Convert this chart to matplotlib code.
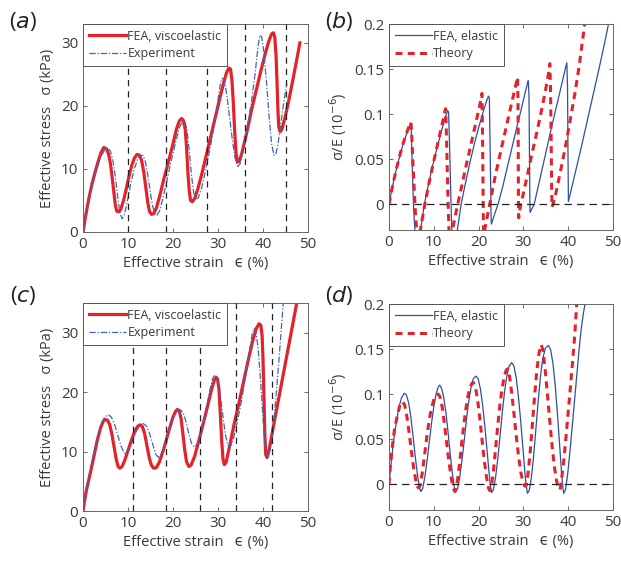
import numpy as np
import matplotlib.pyplot as plt

plt.rcParams['font.family'] = ['Open Sans', 'DejaVu Sans']
plt.rcParams['mathtext.fontset'] = 'dejavusans'
plt.rcParams['text.color'] = '#3a3a3a'
plt.rcParams['axes.labelcolor'] = '#3a3a3a'
plt.rcParams['xtick.color'] = '#555555'
plt.rcParams['ytick.color'] = '#555555'
plt.rcParams['xtick.labelcolor'] = '#3a3a3a'
plt.rcParams['ytick.labelcolor'] = '#3a3a3a'

# ---------------- (a) stress, viscoelastic FEA vs experiment ----------------
a_fea_x = [0, 0.5, 1, 1.5, 2, 2.5, 3, 3.5, 4, 4.6, 5.2, 5.7, 6.1, 6.5, 6.9, 7.2, 7.5, 7.9, 8.4, 9,
           9.6, 10.2, 10.8, 11.4, 12.0, 12.5, 13.0, 13.5, 14.0, 14.4, 14.8, 15.2, 15.7, 16.3, 17, 18,
           19, 20, 20.8, 21.4, 21.9, 22.3, 22.7, 23.0, 23.3, 23.6, 23.9, 24.3, 24.8, 25.5, 26.5, 27.5,
           28.5, 29.5, 30.5, 31.3, 31.9, 32.4, 32.8, 33.1, 33.4, 33.7, 34.0, 34.3, 34.7, 35.3, 36.3,
           37.5, 38.5, 39.5, 40.5, 41.3, 41.9, 42.3, 42.6, 42.9, 43.1, 43.3, 43.5, 43.8, 44.2, 45, 46,
           47, 48.2]
a_fea_y = [0, 2.2, 4.2, 6, 7.6, 9, 10.3, 11.5, 12.6, 13.4, 13.2, 12.3, 10.8, 8.5, 6, 4.2, 3.3, 3.2, 3.6, 5,
           6.8, 8.8, 10.5, 11.7, 12.3, 12.2, 11.4, 9.5, 6.8, 4.6, 3.2, 2.8, 2.9, 3.8, 5.6, 8.5,
           11.2, 14, 16.4, 17.6, 18.0, 17.7, 16.3, 13.5, 9.5, 6.5, 5.0, 4.8, 5.3, 6.8, 9.5, 12.5,
           15.5, 18.5, 21.5, 23.8, 25.3, 26.0, 25.8, 24, 20.5, 16, 12.5, 11.1, 11.2, 12.5, 15.5,
           19.5, 22.5, 25.5, 28.3, 30.3, 31.4, 31.6, 31, 28, 24, 19.5, 16.7, 15.9, 16.3, 18.5, 21.8,
           25.5, 30]
a_exp_x = [0, 0.5, 1, 1.5, 2, 3, 4, 4.8, 5.5, 6.1, 6.6, 7.1, 7.5, 7.9, 8.3, 8.7, 9.1, 9.6, 10.1, 10.7,
           11.4, 12.1, 12.8, 13.4, 13.9, 14.4, 14.9, 15.4, 15.9, 16.4, 17, 17.8, 18.6, 19.5, 20.5,
           21.4, 22.1, 22.6, 23.1, 23.6, 24.1, 24.6, 25.1, 25.6, 26.3, 27.3, 28.3, 29.3, 30.0, 30.6,
           31.0, 31.5, 32.0, 32.6, 33.2, 33.8, 34.4, 34.9, 35.6, 36.5, 37.5, 38.3, 38.9, 39.3, 39.7,
           40.2, 40.8, 41.4, 41.9, 42.4, 42.8, 43.3, 44, 44.7, 45.3]
a_exp_y = [0, 2, 4, 5.8, 7.4, 10, 12, 13, 13.3, 12.8, 11.5, 9.2, 6.8, 4.5, 2.8, 2.1, 2.5, 4.0, 5.8, 8,
           10, 11.5, 12.2, 12.1, 11, 9, 6.5, 4.3, 3.0, 2.7, 3.3, 5.5, 8, 11, 14,
           16.5, 17.6, 17.6, 16.2, 13, 9, 6.2, 5.2, 5.4, 6.8, 10, 13.5, 17.5, 21, 23.8,
           24.4, 23.8, 21.5, 18, 14.5, 11.7, 10.4, 10.8, 13, 16.5, 21, 25.5, 29.5, 31.2, 31.0,
           28.5, 23.5, 18, 14, 12.2, 12.2, 13.8, 17.5, 21, 23.6]
a_marks = [10, 18.5, 27.5, 36, 45]

# ---------------- (b) sigma/E, elastic FEA vs theory ----------------
b_fea_x = [0, 0.5, 1, 1.5, 2, 2.5, 3, 3.5, 4, 4.5, 4.8, 4.95, 5.1, 5.3, 5.5, 5.8, 6.2,
           6.6, 7.1, 7.9, 8.8, 9.8, 10.8, 11.8, 12.6, 13.1, 13.3, 13.5, 13.7, 13.85, 14.0, 14.3,
           14.7, 15.3, 16.1, 17, 18, 19, 20, 21, 21.8, 22.2, 22.4, 22.55, 22.7, 22.8, 22.85,
           23.7, 24.4, 25.5, 26.5, 27.5, 28.5, 29.5, 30.3, 30.9, 31.1, 31.25, 31.35, 31.45, 31.5,
           31.8, 32.4, 33.5, 34.5, 35.5, 36.5, 37.5, 38.5, 39.3, 39.7, 39.85, 39.95, 40.05,
           41, 42, 43, 44, 45, 46, 47, 48, 49, 49.4]
b_fea_y = [0, 0.013, 0.025, 0.036, 0.046, 0.055, 0.064, 0.072, 0.079, 0.086, 0.090, 0.086, 0.06, 0.025, -0.005, -0.03, -0.05,
           -0.045, -0.026, 0, 0.022, 0.044, 0.064, 0.083, 0.097, 0.104, 0.102, 0.07, 0.03, 0, -0.025, -0.05,
           -0.045, -0.027, 0, 0.022, 0.045, 0.066, 0.085, 0.102, 0.115, 0.12, 0.118, 0.07, 0.02, -0.015, -0.022,
           -0.009, 0.001, 0.022, 0.043, 0.064, 0.085, 0.105, 0.122, 0.134, 0.137, 0.12, 0.06, 0.0, -0.009,
           -0.006, 0.0, 0.024, 0.046, 0.068, 0.09, 0.111, 0.132, 0.149, 0.157, 0.13, 0.06, 0.003,
           0.023, 0.044, 0.065, 0.087, 0.109, 0.131, 0.153, 0.176, 0.2, 0.21]
b_thy_x = [0, 0.5, 1, 1.5, 2, 2.5, 3, 3.5, 4, 4.5, 4.9, 5.05, 5.3, 5.6, 5.9, 6.2, 6.4,
           6.6, 7.3, 8, 9, 10, 11, 12, 12.5, 12.65, 12.8, 13.0, 13.2, 13.4, 13.5,
           13.8, 14.3, 15, 16, 17, 18, 19, 20, 20.6, 20.75, 20.85, 20.95, 21.05, 21.1,
           21.3, 22, 23, 23.7, 24.5, 25.5, 26.5, 27.5, 28.3, 28.7, 28.8, 28.85, 28.9, 28.95,
           29.4, 30, 31, 32, 33, 34, 35, 35.6, 35.9, 36.05, 36.2, 36.3, 36.4,
           36.8, 37.5, 38.5, 39.5, 40.5, 41.5, 42.5, 43.5, 44]
b_thy_y = [0, 0.013, 0.025, 0.036, 0.046, 0.056, 0.065, 0.073, 0.08, 0.087, 0.091, 0.08, 0.05, 0.02, -0.01, -0.03, -0.045,
           -0.04, -0.02, 0.0, 0.025, 0.048, 0.07, 0.092, 0.104, 0.106, 0.08, 0.04, 0.0, -0.03, -0.045,
           -0.04, -0.025, -0.008, 0.015, 0.038, 0.06, 0.082, 0.104, 0.118, 0.123, 0.09, 0.04, -0.01, -0.04,
           -0.03, -0.012, 0.013, 0.031, 0.049, 0.071, 0.093, 0.115, 0.132, 0.141, 0.11, 0.06, 0.0, -0.015,
           0.0, 0.012, 0.035, 0.058, 0.08, 0.103, 0.128, 0.145, 0.156, 0.13, 0.07, 0.02, -0.003,
           0.003, 0.018, 0.042, 0.067, 0.095, 0.123, 0.155, 0.193, 0.213]

# ---------------- (c) stress, viscoelastic FEA vs experiment ----------------
c_fea_x = [0, 0.3, 0.7, 1.2, 1.8, 2.5, 3.2, 3.9, 4.5, 4.9, 5.4, 5.9, 6.4, 6.9, 7.4, 7.8, 8.2, 8.7,
           9.3, 10, 10.8, 11.6, 12.2, 12.7, 13.2, 13.7, 14.2, 14.7, 15.2, 15.7, 16.3, 17, 18, 19,
           19.9, 20.5, 21.0, 21.4, 21.8, 22.2, 22.6, 23.0, 23.5, 24.0, 24.8, 25.8, 26.8, 27.8,
           28.6, 29.2, 29.6, 29.9, 30.2, 30.5, 30.8, 31.1, 31.4, 31.8, 32.6, 33.6, 34.6, 35.6,
           36.6, 37.6, 38.5, 39.1, 39.5, 39.8, 40.0, 40.2, 40.4, 40.6, 40.9, 41.4, 42.5, 43.5,
           44.5, 45.5, 46.5, 47.5, 48]
c_fea_y = [0, 1.5, 3.3, 5, 7, 9.5, 12, 14, 15.1, 15.4, 15.3, 14.6, 13, 10.8, 8.6, 7.5, 7.2, 7.5,
           8.6, 10.2, 12, 13.6, 14.3, 14.5, 14.2, 13, 11, 9, 7.7, 7.2, 7.3, 8.3, 10.6, 13.3,
           15.6, 16.7, 17.1, 16.8, 15.5, 13, 10.3, 8.3, 7.5, 7.7, 9.2, 12, 15, 18,
           20.6, 22, 22.5, 22.2, 20.5, 16.5, 12, 8.8, 7.8, 8.2, 11, 14.7, 18, 21.5,
           25, 28.3, 30.7, 31.5, 31.3, 29.5, 25.5, 19.5, 13, 9.5, 9.0, 10.5, 15, 19,
           23, 27, 31, 35, 37]
c_exp_x = [0, 0.3, 0.7, 1.2, 1.8, 2.5, 3.2, 4, 4.8, 5.6, 6.3, 7, 7.7, 8.4, 9.1, 9.6, 10.2, 11,
           11.8, 12.6, 13.4, 14.1, 14.8, 15.5, 16.2, 16.8, 17.4, 18.2, 19.2, 20.2, 21, 21.7, 22.3,
           22.9, 23.5, 24.1, 24.7, 25.3, 26.2, 27.2, 28.1, 28.8, 29.3, 29.8, 30.4, 31, 31.6, 32.2,
           32.7, 33.3, 34.2, 35.2, 36.2, 37.0, 37.6, 38.0, 38.4, 38.9, 39.5, 40.1, 40.6, 41,
           41.4, 42, 42.8, 43.6, 44.4, 44.6]
c_exp_y = [0, 1.7, 3.6, 5.5, 7.6, 10, 12.5, 14.6, 15.8, 16.2, 15.8, 14.6, 12.8, 11, 9.8, 9.6, 10.2, 11.8,
           13.4, 14.4, 14.7, 14.3, 13, 11.2, 9.5, 9.0, 9.5, 11.2, 13.8, 16, 16.9, 17, 16.5,
           15, 13, 11.4, 10.8, 11.2, 13, 16.5, 20, 22.3, 22.9, 22.4, 20, 16.5, 13, 11,
           10.8, 11.8, 14.7, 18.5, 23, 27, 29.8, 30.7, 30.3, 27.5, 21.5, 14.5, 10, 9.1,
           9.6, 12, 18.5, 26, 34, 36]
c_marks = [11, 18.5, 26, 34, 42]

# ---------------- (d) sigma/E, elastic FEA vs theory ----------------
d_fea_x = [0, 0.4, 0.8, 1.3, 1.8, 2.3, 2.8, 3.4, 3.9, 4.4, 4.9, 5.4, 5.9, 6.4, 6.8, 7.1, 7.5, 8, 8.5,
           9, 9.5, 10, 10.5, 11, 11.3, 11.7, 12.2, 12.7, 13.2, 13.7, 14.2, 14.6, 14.9, 15.3, 15.8,
           16.3, 16.8, 17.3, 17.8, 18.3, 18.8, 19.4, 19.9, 20.4, 20.9, 21.4, 21.9, 22.3, 22.6,
           22.9, 23.3, 23.8, 24.3, 24.8, 25.3, 25.8, 26.3, 26.8, 27.4, 27.9, 28.4, 28.9, 29.4,
           29.9, 30.3, 30.6, 30.9, 31.3, 31.8, 32.3, 32.8, 33.3, 33.8, 34.3, 34.9, 35.6, 36.1,
           36.6, 37.1, 37.6, 38.1, 38.5, 38.8, 39.0, 39.4, 39.9, 40.4, 40.9, 41.4, 41.9, 42.4,
           42.9, 43.4, 43.8, 44.2]
d_fea_y = [0, 0.02, 0.038, 0.058, 0.074, 0.087, 0.096, 0.101, 0.099, 0.09, 0.074, 0.052, 0.029, 0.009, -0.004, -0.008, -0.005, 0.008, 0.026,
           0.047, 0.068, 0.086, 0.1, 0.108, 0.11, 0.107, 0.097, 0.08, 0.057, 0.032, 0.01, -0.004, -0.008, -0.005, 0.008,
           0.027, 0.049, 0.072, 0.092, 0.107, 0.117, 0.12, 0.117, 0.106, 0.088, 0.064, 0.037, 0.015, 0.0,
           -0.009, -0.006, 0.008, 0.029, 0.054, 0.08, 0.103, 0.12, 0.131, 0.135, 0.131, 0.118, 0.097, 0.07,
           0.04, 0.015, 0.0, -0.01, -0.007, 0.008, 0.032, 0.062, 0.092, 0.119, 0.139, 0.151, 0.154, 0.149,
           0.134, 0.11, 0.078, 0.043, 0.014, -0.003, -0.01, -0.006, 0.012, 0.037, 0.064, 0.092, 0.12, 0.148,
           0.172, 0.19, 0.201, 0.212]
d_thy_x = [0, 0.3, 0.7, 1.2, 1.8, 2.4, 3.0, 3.5, 4.0, 4.5, 5.0, 5.5, 6.0, 6.4, 6.7, 7.0, 7.5, 8, 8.5,
           9, 9.5, 10, 10.5, 11, 11.4, 11.9, 12.4, 12.9, 13.4, 13.9, 14.3, 14.7, 15.0, 15.5, 16,
           16.5, 17, 17.5, 18, 18.5, 18.8, 19.3, 19.8, 20.3, 20.8, 21.3, 21.8, 22.2, 22.5, 22.8,
           23.3, 23.8, 24.3, 24.8, 25.3, 25.8, 26.2, 26.5, 26.9, 27.4, 27.9, 28.4, 28.9, 29.4,
           29.9, 30.3, 30.6, 31, 31.5, 32, 32.5, 33, 33.5, 34.0, 34.4, 34.9, 35.4, 35.9, 36.4,
           36.9, 37.4, 37.8, 38.2, 38.5, 39, 39.5, 40, 40.5, 41, 41.5, 41.9, 42.2]
d_thy_y = [0, 0.02, 0.04, 0.06, 0.075, 0.087, 0.092, 0.088, 0.075, 0.057, 0.037, 0.018, 0.004, -0.003, -0.004, 0.0, 0.015, 0.035, 0.055,
           0.072, 0.085, 0.094, 0.099, 0.1, 0.097, 0.085, 0.066, 0.045, 0.024, 0.007, -0.004, -0.008, -0.005, 0.012, 0.035,
           0.058, 0.078, 0.095, 0.106, 0.112, 0.113, 0.108, 0.093, 0.072, 0.048, 0.025, 0.007, -0.004, -0.007, -0.004,
           0.014, 0.04, 0.066, 0.09, 0.108, 0.121, 0.127, 0.128, 0.12, 0.101, 0.078, 0.054, 0.032, 0.014,
           0.002, -0.002, -0.001, 0.01, 0.035, 0.066, 0.098, 0.126, 0.146, 0.155, 0.148, 0.125, 0.098, 0.07, 0.043,
           0.02, 0.004, -0.004, -0.006, 0.005, 0.025, 0.052, 0.08, 0.108, 0.137, 0.168, 0.2, 0.22]

RED = '#e3232c'
BLUE = '#2f4f9e'
EXP_BLUE = '#3f66b0'
xticks = [0, 10, 20, 30, 40, 50]


def style_axes(ax):
    ax.set_xlim(0, 50)
    ax.set_xticks(xticks)
    ax.tick_params(direction='in', top=True, right=True, length=3, width=0.6, labelsize=11)
    for s in ax.spines.values():
        s.set_color('#666666')
        s.set_linewidth(0.7)
    ax.set_xlabel('Effective strain   ϵ (%)', fontsize=10.5, labelpad=3)


def add_legend(ax):
    leg = ax.legend(loc='upper left', borderaxespad=0, fancybox=False, framealpha=1,
                    edgecolor='#555555', fontsize=9, handlelength=3.0, handletextpad=0.1,
                    borderpad=0.45, labelspacing=0.35)
    leg.get_frame().set_linewidth(0.7)
    leg.set_zorder(10)


fig = plt.figure(figsize=(6.21, 5.61), dpi=100)

ax_a = fig.add_axes([0.1337, 0.5865, 0.3623, 0.3708])
ax_b = fig.add_axes([0.6264, 0.5900, 0.3607, 0.3672])
ax_c = fig.add_axes([0.1337, 0.0891, 0.3623, 0.3708])
ax_d = fig.add_axes([0.6264, 0.0909, 0.3607, 0.3672])

# stress panels
for ax, fx, fy, ex, ey, marks, ytop in [(ax_a, a_fea_x, a_fea_y, a_exp_x, a_exp_y, a_marks, 33),
                                         (ax_c, c_fea_x, c_fea_y, c_exp_x, c_exp_y, c_marks, 35)]:
    ax.plot(fx, fy, '-', color=RED, lw=2.3, label='FEA, viscoelastic', zorder=2)
    ax.plot(ex, ey, color=EXP_BLUE, lw=0.9, dashes=(5, 1.5, 1, 1.5), label='Experiment', zorder=2.5)
    for m in marks:
        ax.axvline(m, color='#222222', lw=0.9, dashes=(5, 4), zorder=3)
    ax.set_ylim(0, ytop)
    ax.set_yticks([0, 10, 20, 30])
    style_axes(ax)
    ax.set_ylabel('Effective stress   σ (kPa)', fontsize=10.5, labelpad=4)
    add_legend(ax)

# normalised panels
for ax, fx, fy, tx, ty in [(ax_b, b_fea_x, b_fea_y, b_thy_x, b_thy_y),
                           (ax_d, d_fea_x, d_fea_y, d_thy_x, d_thy_y)]:
    ax.plot(fx, fy, '-', color=BLUE, lw=0.9, label='FEA, elastic', zorder=2)
    ax.plot(tx, ty, color=RED, lw=2.2, dashes=(2.3, 1.7), label='Theory', zorder=2.5)
    ax.axhline(0, color='#222222', lw=0.9, dashes=(6, 4), zorder=3)
    ax.set_ylim(-0.0285, 0.2)
    ax.set_yticks([0, 0.05, 0.1, 0.15, 0.2])
    ax.set_yticklabels(['0', '0.05', '0.1', '0.15', '0.2'])
    style_axes(ax)
    ax.set_ylabel('σ/E (10$^{-6}$)', fontsize=10.5, labelpad=4)
    add_legend(ax)

# panel letters
for lbl, x, y in [('a', 0.037, 0.962), ('b', 0.546, 0.962), ('c', 0.037, 0.474), ('d', 0.546, 0.474)]:
    fig.text(x, y, '($\\mathit{%s}$)' % lbl, fontsize=16, ha='center', va='center', color='#222222')

plt.savefig('out.png', dpi=100)
